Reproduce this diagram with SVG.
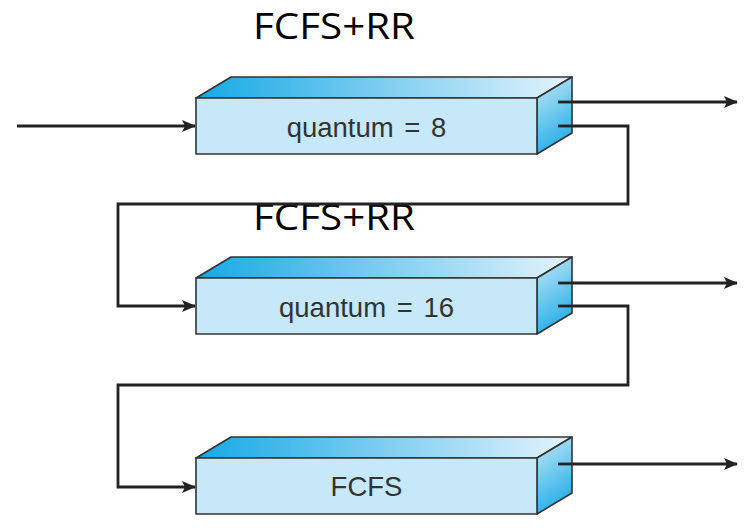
<svg xmlns="http://www.w3.org/2000/svg" width="750" height="530" viewBox="0 0 750 530">
  <style>
    .front { fill: #c7e8f8; stroke: #333; stroke-width: 1.6; stroke-linejoin: round; }
    .top { fill: url(#gTop); stroke: #333; stroke-width: 1.6; stroke-linejoin: round; }
    .side { fill: url(#gSide); stroke: #333; stroke-width: 1.6; stroke-linejoin: round; }
    .lbl { font-family: "Liberation Sans", Arial, sans-serif; font-size: 27.5px; fill: #333; text-anchor: middle; word-spacing: 3px; }
    .title { font-family: "Open Sans", "Liberation Sans", sans-serif; font-size: 37px; fill: #000; }
    .conn { fill: none; stroke: #222; stroke-width: 2.8; }
  </style>
  <defs>
    <linearGradient id="gTop" x1="0" y1="0" x2="1" y2="0">
      <stop offset="0" stop-color="#14a9e5"/>
      <stop offset="0.5" stop-color="#7fcdf0"/>
      <stop offset="1" stop-color="#e4f4fc"/>
    </linearGradient>
    <linearGradient id="gSide" x1="0" y1="0" x2="0.3" y2="1">
      <stop offset="0" stop-color="#c4e8f8"/>
      <stop offset="1" stop-color="#2aafe8"/>
    </linearGradient>
    <marker id="arr" markerWidth="14" markerHeight="12" refX="13" refY="6" orient="auto" markerUnits="userSpaceOnUse">
      <path d="M0,0 L14,6 L0,12 L3,6 Z" fill="#222"/>
    </marker>
  </defs>

  <text class="title" x="253" y="39" textLength="162" lengthAdjust="spacingAndGlyphs">FCFS+RR</text>
  <text class="title" x="253" y="230" textLength="162" lengthAdjust="spacingAndGlyphs">FCFS+RR</text>

  <g id="connectors">
    <line class="conn" x1="17" y1="126" x2="195" y2="126" marker-end="url(#arr)"/>
    <line class="conn" x1="558" y1="102" x2="737" y2="102" marker-end="url(#arr)"/>
    <polyline class="conn" points="558,126 628,126 628,204 118,204 118,306 195,306" marker-end="url(#arr)"/>
    <line class="conn" x1="558" y1="283" x2="737" y2="283" marker-end="url(#arr)"/>
    <polyline class="conn" points="558,306 628,306 628,385 118,385 118,487 195,487" marker-end="url(#arr)"/>
    <line class="conn" x1="558" y1="464" x2="737" y2="464" marker-end="url(#arr)"/>
  </g>

  <g id="queue1">
    <polygon class="top" points="196,98 231,77 572,77 537,98"/>
    <polygon class="side" points="537,98 572,77 572,133 537,154"/>
    <rect class="front" x="196" y="98" width="341" height="56"/>
    <line class="conn" x1="558" y1="102" x2="572" y2="102"/>
    <line class="conn" x1="558" y1="126" x2="572" y2="126"/>
    <text class="lbl" x="366.5" y="137">quantum = 8</text>
  </g>

  <g id="queue2">
    <polygon class="top" points="196,278 231,257 572,257 537,278"/>
    <polygon class="side" points="537,278 572,257 572,313 537,334"/>
    <rect class="front" x="196" y="278" width="341" height="56"/>
    <line class="conn" x1="558" y1="283" x2="572" y2="283"/>
    <line class="conn" x1="558" y1="306" x2="572" y2="306"/>
    <text class="lbl" x="366.5" y="317">quantum = 16</text>
  </g>

  <g id="queue3">
    <polygon class="top" points="196,458 231,437 572,437 537,458"/>
    <polygon class="side" points="537,458 572,437 572,493 537,514"/>
    <rect class="front" x="196" y="458" width="341" height="56"/>
    <line class="conn" x1="558" y1="464" x2="572" y2="464"/>
    <text class="lbl" x="366.5" y="496">FCFS</text>
  </g>
</svg>
